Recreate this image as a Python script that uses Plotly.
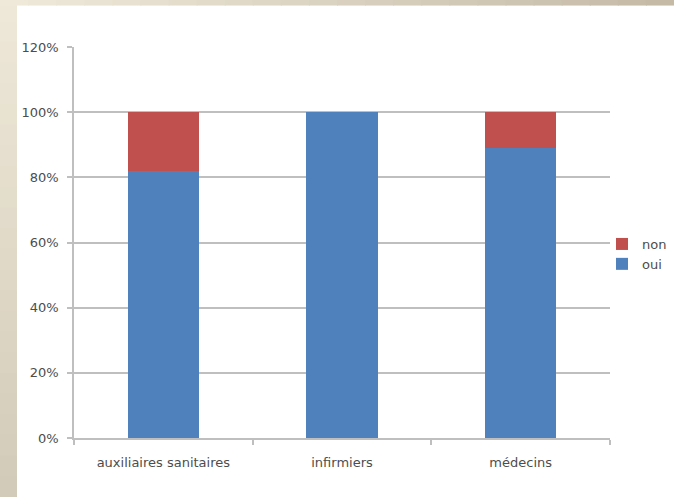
import plotly.graph_objects as go

categories = ["auxiliaires sanitaires", "infirmiers", "médecins"]
oui = [82, 100, 89]
non = [18, 0, 11]
y_ticks = [0, 20, 40, 60, 80, 100, 120]

W, H = 674, 497
L, R, T, B = 74, 64, 46.5, 59
pw, ph = W - L - R, H - T - B


def px(x):
    return (x - L) / pw


def py(y):
    return (H - B - y) / ph


def mix(c1, c2, t):
    return "rgb(%d,%d,%d)" % tuple(round(a + (b - a) * t) for a, b in zip(c1, c2))


shapes = []
# beige frame: left strip (vertical gradient) and top strip (horizontal gradient)
n = 24
for i in range(n):
    y0 = i * H / n
    y1 = (i + 1) * H / n + 1
    shapes.append(dict(type="rect", xref="paper", yref="paper", layer="below",
                       x0=px(-1), x1=px(17), y0=py(y0), y1=py(y1), line_width=0,
                       fillcolor=mix((238, 232, 216), (211, 203, 185), i / (n - 1))))
for i in range(n):
    x0 = i * W / n
    x1 = (i + 1) * W / n + 1
    shapes.append(dict(type="rect", xref="paper", yref="paper", layer="below",
                       x0=px(x0), x1=px(x1), y0=py(-1), y1=py(5), line_width=0,
                       fillcolor=mix((239, 233, 218), (196, 186, 166), i / (n - 1))))

font = dict(family="DejaVu Sans", size=13, color="#4d4d4d")

fig = go.Figure()
fig.add_trace(go.Bar(name="oui", x=categories, y=oui, marker_color="#4F81BD",
                     marker_line_width=0, width=0.4))
fig.add_trace(go.Bar(name="non", x=categories, y=non, marker_color="#C0504D",
                     marker_line_width=0, width=0.4))

fig.update_layout(
    width=W, height=H,
    margin=dict(l=L, r=R, t=T, b=B, autoexpand=False),
    barmode="stack",
    paper_bgcolor="white", plot_bgcolor="white",
    font=font,
    shapes=shapes,
    showlegend=True,
    legend=dict(traceorder="reversed", xref="container", yref="container",
                x=602 / W, xanchor="left", y=1 - 229 / H, yanchor="top",
                font=font, bgcolor="rgba(0,0,0,0)"),
)
fig.update_xaxes(showline=True, linecolor="#bfbfbf", linewidth=1.5,
                 ticks="outside", tickson="boundaries", ticklen=5,
                 tickcolor="#bfbfbf", tickwidth=1.5, showgrid=False,
                 ticklabelstandoff=12, tickfont=font)
fig.update_yaxes(range=[0, 120], tickvals=y_ticks,
                 ticktext=[f"{v}%" for v in y_ticks],
                 showline=True, linecolor="#bfbfbf", linewidth=1.5,
                 ticks="outside", ticklen=5, tickcolor="#bfbfbf", tickwidth=1.5,
                 showgrid=True, gridcolor="#bfbfbf", gridwidth=1.5,
                 zeroline=False, ticklabelstandoff=6, tickfont=font)

fig.write_html("out.html")
